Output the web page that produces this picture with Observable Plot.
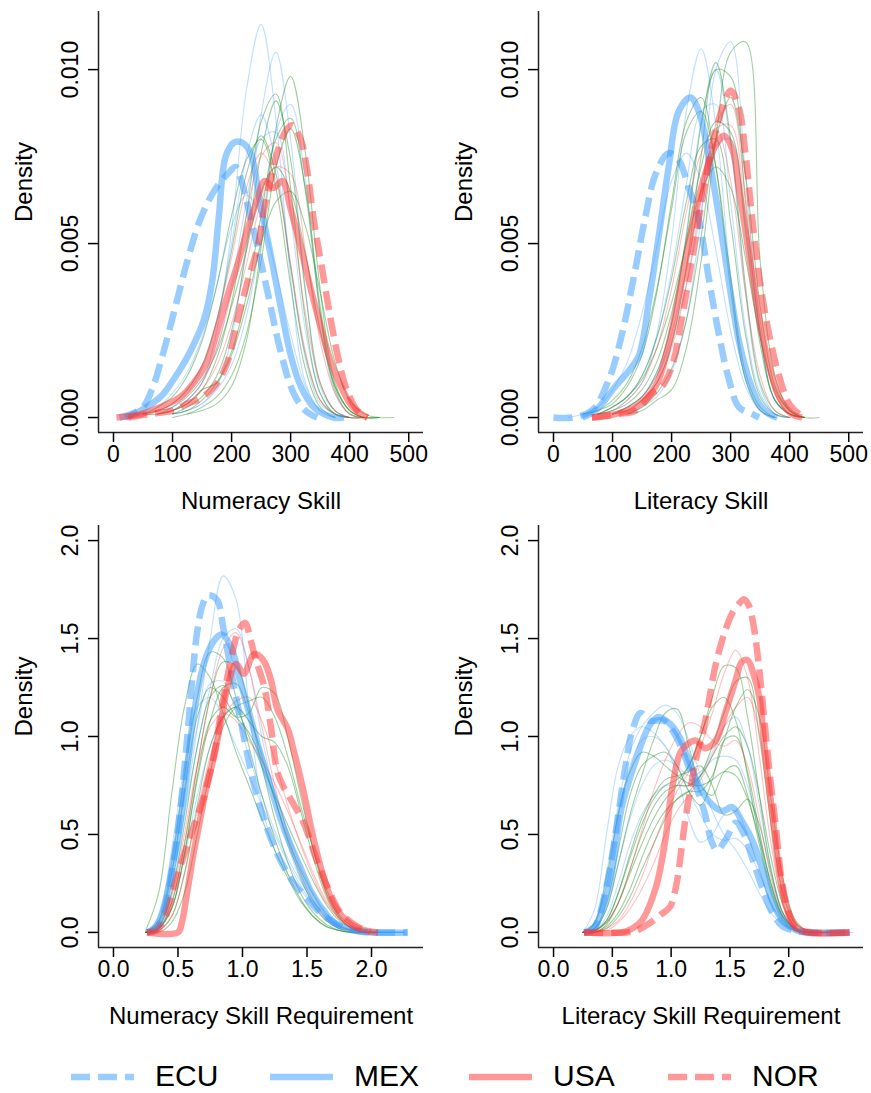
<!DOCTYPE html>
<html><head><meta charset="utf-8">
<script src="https://cdn.jsdelivr.net/npm/d3@7"></script>
<script src="https://cdn.jsdelivr.net/npm/@observablehq/plot@0.6"></script>
<style>
body{margin:0;background:#fff;font-family:"Liberation Sans",Arial,Helvetica,sans-serif;}
#grid{display:grid;grid-template-columns:435px 436px;width:871px}
#grid svg{display:block}
#legend{display:block}
</style></head><body>
<div id="grid"></div>
<svg id="legend" width="871" height="53"></svg>
<script>
// ---------- categories ----------
const countries = ["ECU", "MEX", "USA", "NOR"];
const panelTitles = ["Numeracy Skill", "Literacy Skill", "Numeracy Skill Requirement", "Literacy Skill Requirement"];

// ---------- tick labels ----------
const skillTicks = [0, 100, 200, 300, 400, 500];
const skillDensityTicks = [0, 0.005, 0.010];
const reqTicks = [0, 0.5, 1.0, 1.5, 2.0];
const reqDensityTicks = [0, 0.5, 1.0, 1.5, 2.0];

// ---------- x grids for the thin background densities ----------
const skillGrid = [0,25,50,75,100,125,150,175,200,225,250,275,300,325,350,375,400,425,450,475];
const reqNumGrid = [0.25,0.35,0.45,0.55,0.65,0.75,0.85,0.95,1.05,1.15,1.25,1.35,1.45,1.55,1.65,1.75,1.85,1.95,2.05,2.15,2.25];
const reqLitGrid = [0.25,0.35,0.45,0.55,0.65,0.75,0.85,0.95,1.05,1.15,1.25,1.35,1.45,1.55,1.65,1.75,1.85,1.95,2.05,2.15,2.25,2.35,2.45,2.55];

// ---------- background country densities: [group, first x, values on grid] ----------
const numSkillBg = [
 ["b",75,[.0001,.0002,.0005,.0010,.0025,.0054,.0094,.0113,.0086,.0040,.0010,.0002,0]],
 ["b",100,[.0001,.0002,.0004,.0009,.0023,.0050,.0087,.0105,.0080,.0037,.0009,.0002,0]],
 ["b",100,[.0001,.0002,.0004,.0008,.0015,.0029,.0052,.0082,.0090,.0068,.0030,.0007,.0001,0]],
 ["b",25,[0,.0001,.0003,.0007,.0013,.0023,.0038,.0055,.0064,.0058,.0042,.0024,.0009,.0002,0]],
 ["b",50,[.0001,.0002,.0003,.0007,.0014,.0028,.0050,.0075,.0087,.0073,.0044,.0017,.0004,.0001,0]],
 ["b",75,[.0001,.0002,.0005,.0010,.0020,.0038,.0062,.0080,.0082,.0058,.0025,.0007,.0001,0]],
 ["g",100,[0,.0001,.0002,.0004,.0009,.0022,.0049,.0083,.0098,.0076,.0037,.0010,.0002,0,0]],
 ["g",75,[.0001,.0002,.0004,.0008,.0017,.0033,.0058,.0085,.0093,.0066,.0028,.0007,.0001,0,0]],
 ["g",100,[.0001,.0003,.0006,.0012,.0025,.0048,.0076,.0091,.0074,.0036,.0010,.0002,0,0,0]],
 ["g",100,[.0001,.0002,.0005,.0010,.0019,.0035,.0058,.0080,.0086,.0065,.0030,.0008,.0001,0]],
 ["g",50,[.0001,.0002,.0004,.0008,.0015,.0028,.0048,.0070,.0081,.0070,.0043,.0018,.0005,.0001,0]],
 ["g",50,[.0001,.0003,.0006,.0012,.0022,.0038,.0058,.0074,.0080,.0066,.0038,.0014,.0003,0]],
 ["g",125,[.0001,.0003,.0006,.0012,.0024,.0045,.0072,.0083,.0066,.0032,.0009,.0002,0,0]],
 ["g",50,[.0001,.0001,.0003,.0006,.0011,.0019,.0032,.0048,.0065,.0072,.0065,.0047,.0025,.0009,.0002,0]],
 ["g",100,[.0002,.0004,.0008,.0010,.0018,.0032,.0050,.0062,.0065,.0055,.0036,.0016,.0005,.0001,0,0]],
 ["r",75,[.0001,.0002,.0005,.0010,.0020,.0036,.0058,.0075,.0079,.0060,.0030,.0010,.0002,0,0]],
 ["r",75,[.0001,.0002,.0004,.0008,.0015,.0027,.0044,.0062,.0072,.0070,.0048,.0022,.0007,.0001,0]],
 ["r",50,[.0001,.0002,.0004,.0008,.0015,.0028,.0046,.0066,.0076,.0068,.0044,.0019,.0005,.0001,0]]
];
const litSkillBg = [
 ["b",75,[.0001,.0002,.0005,.0010,.0024,.0051,.0088,.0106,.0084,.0040,.0011,.0002,0]],
 ["b",125,[.0001,.0003,.0006,.0013,.0028,.0058,.0100,.0108,.0070,.0025,.0005,.0001,0]],
 ["b",100,[.0001,.0003,.0006,.0013,.0027,.0053,.0085,.0100,.0078,.0036,.0009,.0001,0]],
 ["b",25,[0,.0001,.0003,.0008,.0016,.0030,.0049,.0068,.0076,.0068,.0048,.0025,.0009,.0002,0]],
 ["b",75,[.0001,.0003,.0006,.0012,.0023,.0042,.0067,.0088,.0090,.0062,.0026,.0007,.0001,0]],
 ["b",100,[.0001,.0003,.0006,.0012,.0022,.0038,.0059,.0078,.0080,.0056,.0023,.0005,.0001,0]],
 ["g",125,[.0001,.0002,.0005,.0008,.0020,.0045,.0080,.0105,.0108,.0045,.0012,.0002,0,0]],
 ["g",100,[.0001,.0002,.0005,.0010,.0021,.0043,.0075,.0100,.0098,.0062,.0024,.0005,.0001,0]],
 ["g",100,[.0001,.0003,.0006,.0013,.0027,.0052,.0084,.0102,.0080,.0038,.0010,.0002,0]],
 ["g",50,[.0001,.0002,.0004,.0009,.0018,.0036,.0062,.0085,.0092,.0072,.0037,.0011,.0002,0]],
 ["g",75,[.0001,.0003,.0006,.0012,.0023,.0040,.0062,.0078,.0080,.0056,.0024,.0006,.0001,0]],
 ["g",125,[.0001,.0003,.0007,.0014,.0028,.0052,.0080,.0092,.0070,.0032,.0009,.0002,0]],
 ["g",75,[.0001,.0003,.0006,.0011,.0020,.0033,.0050,.0065,.0072,.0066,.0046,.0023,.0008,.0002,0]],
 ["g",75,[.0001,.0002,.0004,.0008,.0016,.0030,.0051,.0072,.0085,.0082,.0054,.0021,.0005,.0001,0]],
 ["g",50,[.0001,.0002,.0005,.0010,.0020,.0037,.0060,.0082,.0088,.0072,.0040,.0013,.0003,0]],
 ["r",100,[.0001,.0002,.0005,.0010,.0020,.0038,.0062,.0084,.0090,.0064,.0028,.0007,.0001,0]],
 ["r",100,[.0001,.0003,.0006,.0012,.0024,.0043,.0066,.0083,.0084,.0058,.0025,.0007,.0001,0]],
 ["r",75,[.0001,.0002,.0005,.0010,.0020,.0037,.0059,.0076,.0083,.0068,.0036,.0012,.0002,0]]
];
const numReqBg = [
 ["b",0.25,[0,.03,.2,.6,1.05,1.5,1.82,1.7,1.15,.65,.42,.3,.22,.13,.06,.02,.005,0,0,0,0]],
 ["b",0.25,[0,.04,.25,.6,.95,1.25,1.5,1.55,1.35,1.0,.7,.45,.27,.15,.07,.03,.01,0,0,0,0]],
 ["b",0.25,[0,.06,.3,.7,1.05,1.27,1.28,1.12,.9,.7,.52,.38,.26,.16,.08,.03,.01,0,0,0,0]],
 ["b",0.25,[0,.02,.12,.38,.7,.95,1.1,1.15,1.08,.92,.72,.52,.34,.2,.1,.04,.015,.005,0,0,0]],
 ["b",0.25,[0,.08,.42,.85,1.15,1.2,1.1,.95,.8,.65,.5,.36,.24,.14,.07,.03,.01,0,0,0]],
 ["g",0.25,[0,.06,.35,.8,1.2,1.43,1.4,1.2,.95,.7,.48,.3,.17,.08,.03,.01,0,0]],
 ["g",0.25,[.01,.2,.7,1.15,1.37,1.3,1.12,.92,.75,.58,.42,.28,.16,.08,.03,.01,0,0]],
 ["g",0.25,[0,.02,.15,.45,.85,1.2,1.38,1.36,1.15,.85,.58,.36,.2,.1,.04,.01,0,0]],
 ["g",0.25,[0,.02,.12,.4,.8,1.08,1.15,1.1,1.12,1.25,1.22,1.0,.7,.42,.2,.08,.02,0,0]],
 ["g",0.25,[0,.01,.08,.3,.65,.95,1.1,1.15,1.08,1.0,.97,.85,.62,.38,.18,.07,.02,0,0]],
 ["g",0.25,[0,.03,.2,.55,.95,1.2,1.26,1.15,1.0,.85,.7,.55,.4,.26,.14,.06,.02,.005,0]],
 ["g",0.25,[0,0,.05,.2,.5,.82,1.05,1.15,1.18,1.2,1.1,.9,.65,.42,.22,.09,.03,.01,0]],
 ["g",0.25,[0,.02,.12,.4,.78,1.08,1.25,1.27,1.12,.9,.68,.48,.32,.19,.09,.035,.01,0]],
 ["g",0.25,[0,.05,.3,.72,1.1,1.25,1.2,1.1,1.02,.88,.68,.47,.28,.14,.06,.02,0]],
 ["r",0.25,[0,.02,.15,.45,.85,1.2,1.45,1.53,1.35,1.05,.75,.5,.3,.16,.07,.025,.01,0]],
 ["r",0.25,[0,.01,.08,.3,.62,.9,1.1,1.18,1.2,1.08,.88,.65,.45,.28,.15,.07,.02,.005,0]],
 ["r",0.25,[0,.03,.18,.5,.85,1.05,1.12,1.08,.98,.88,.76,.62,.46,.3,.16,.07,.02,0]]
];
const litReqBg = [
 ["b",0.25,[0,.05,.3,.65,.92,1.05,1.12,1.16,1.12,.98,.8,.62,.5,.42,.32,.2,.1,.04,.01,0,0,0]],
 ["b",0.25,[0,.12,.5,.85,1.0,1.05,1.02,.95,.85,.72,.6,.5,.47,.48,.42,.3,.15,.06,.02,0,0]],
 ["b",0.25,[0,.02,.12,.35,.58,.75,.85,.88,.85,.8,.82,.92,1.05,1.1,.95,.65,.32,.1,.02,0,0,0]],
 ["b",0.25,[0,.04,.25,.6,.85,.98,1.0,.95,.8,.58,.46,.5,.6,.62,.5,.32,.15,.05,.01,0,0]],
 ["b",0.25,[0,.01,.08,.25,.45,.6,.7,.75,.75,.75,.8,.88,.9,.88,.75,.5,.25,.08,.02,0,0,0,0,0]],
 ["g",0.25,[0,.02,.12,.35,.6,.8,.98,1.12,1.14,.95,.75,.7,.82,.85,.7,.45,.2,.06,.01,0]],
 ["g",0.25,[0,.01,.05,.15,.3,.45,.58,.68,.75,.85,1.0,1.2,1.36,1.35,1.1,.7,.32,.1,.02,0,0]],
 ["g",0.25,[0,0,.03,.1,.22,.38,.52,.62,.68,.72,.8,.95,1.12,1.28,1.3,1.0,.55,.2,.05,.01,0,0,0]],
 ["g",0.25,[0,.05,.28,.6,.82,.92,.9,.85,.8,.76,.75,.78,.82,.8,.68,.48,.25,.08,.02,0,0]],
 ["g",0.25,[0,.01,.06,.2,.38,.55,.68,.75,.78,.85,1.0,1.15,1.2,1.08,.8,.48,.22,.07,.01,0]],
 ["g",0.25,[0,0,.02,.08,.18,.32,.45,.58,.68,.72,.72,.8,.98,1.15,1.24,1.1,.68,.28,.07,.01,0,0]],
 ["g",0.25,[0,.02,.15,.42,.7,.85,.9,.92,.85,.72,.65,.78,.98,1.0,.82,.52,.24,.08,.02,0]],
 ["g",0.25,[0,.01,.06,.2,.4,.58,.7,.78,.8,.82,.85,.75,.6,.62,.68,.55,.3,.1,.02,0]],
 ["g",0.25,[0,0,.04,.15,.32,.5,.64,.72,.75,.75,.8,.9,1.0,1.05,.95,.7,.38,.14,.03,0,0]],
 ["r",0.25,[0,0,.02,.06,.15,.28,.45,.6,.72,.82,.95,1.12,1.32,1.44,1.3,.9,.45,.15,.03,0,0]],
 ["r",0.25,[0,.01,.05,.15,.32,.52,.72,.88,1.0,1.07,1.05,.98,.95,.98,.85,.58,.28,.09,.02,0,0]],
 ["r",0.25,[0,0,.01,.05,.12,.22,.35,.5,.62,.7,.78,.9,1.05,1.15,1.2,1.02,.6,.25,.06,.01,0,0]]
];

// ---------- highlighted countries: [x, density] ----------
const numSkillECU = [[10,0],[30,.0001],[50,.0003],[65,.0008],[80,.0016],[102,.0030],[125,.0045],[147,.0057],[170,.0065],[193,.0070],[207,.0072],[215,.0069],[227,.0061],[244,.0049],[261,.0036],[283,.0019],[305,.0007],[325,.0002],[345,0]];
const numSkillMEX = [[20,0],[46,.0002],[80,.0006],[102,.0011],[130,.0019],[153,.0028],[167,.0039],[178,.0057],[190,.0075],[204,.0079],[218,.0079],[232,.0076],[249,.0061],[266,.0047],[283,.0032],[300,.0018],[317,.0009],[339,.0003],[373,0],[390,0]];
const numSkillUSA = [[5,0],[46,.0001],[80,.0003],[114,.0006],[136,.0010],[159,.0016],[176,.0025],[193,.0035],[210,.0044],[227,.0054],[244,.0063],[256,.0068],[271,.0066],[286,.0068],[300,.0060],[317,.0049],[334,.0037],[351,.0026],[368,.0016],[385,.0009],[405,.0003],[430,0]];
const numSkillNOR = [[25,0],[60,.0001],[100,.0002],[125,.0004],[142,.0005],[159,.0007],[176,.0010],[193,.0016],[210,.0028],[227,.0039],[244,.0049],[254,.0059],[266,.0068],[277,.0076],[294,.0083],[303,.0084],[317,.0080],[328,.0071],[339,.0057],[354,.0042],[368,.0028],[382,.0016],[395,.0008],[413,.0002],[430,0]];

const litSkillECU = [[0,0],[32,0],[65,.0002],[94,.0011],[116,.0024],[139,.0043],[156,.0058],[173,.0070],[195,.0076],[212,.0074],[229,.0066],[246,.0057],[263,.0040],[280,.0024],[297,.0011],[314,.0003],[337,.0001],[348,0]];
const litSkillMEX = [[49,0],[71,.0002],[105,.0009],[128,.00135],[145,.0018],[162,.0034],[179,.0053],[195,.0072],[212,.0088],[232,.0092],[246,.0088],[263,.0075],[280,.0058],[297,.0039],[314,.0022],[331,.0011],[348,.0004],[365,.0001],[379,0]];
const litSkillUSA = [[65,0],[105,.0001],[139,.0003],[173,.0009],[195,.0021],[218,.0040],[240,.0059],[257,.0070],[274,.0078],[289,.0081],[303,.0077],[314,.0066],[331,.0047],[348,.0029],[365,.0015],[382,.0006],[404,.0001],[421,0]];
const litSkillNOR = [[65,0],[110,.0001],[139,.0002],[167,.0007],[184,.0009],[201,.0015],[218,.0029],[235,.0046],[252,.0063],[269,.0078],[286,.0089],[300,.0094],[314,.0089],[325,.0076],[336,.0058],[348,.0041],[365,.0024],[382,.0012],[399,.0004],[416,.0001],[425,0]];

const numReqECU = [[0.26,0],[0.33,.02],[0.39,.10],[0.47,.38],[0.52,.64],[0.57,.98],[0.61,1.29],[0.65,1.54],[0.69,1.67],[0.73,1.72],[0.80,1.70],[0.85,1.56],[0.91,1.34],[0.96,1.17],[1.04,.90],[1.11,.70],[1.17,.57],[1.27,.40],[1.40,.25],[1.53,.15],[1.62,.09],[1.71,.05],[1.80,.02],[1.90,.005],[2.0,0],[2.28,0]];
const numReqMEX = [[0.26,0],[0.33,.03],[0.39,.13],[0.47,.38],[0.55,.72],[0.62,1.10],[0.70,1.37],[0.78,1.49],[0.84,1.52],[0.91,1.46],[0.98,1.29],[1.06,1.10],[1.14,.91],[1.22,.74],[1.29,.59],[1.37,.45],[1.45,.33],[1.53,.21],[1.63,.11],[1.73,.04],[1.89,.01],[2.0,0],[2.28,0]];
const numReqUSA = [[0.26,0],[0.50,0],[0.53,.05],[0.57,.20],[0.62,.40],[0.67,.57],[0.72,.74],[0.78,.90],[0.84,1.10],[0.88,1.24],[0.95,1.37],[1.01,1.32],[1.09,1.42],[1.16,1.39],[1.22,1.29],[1.27,1.14],[1.35,1.04],[1.40,.92],[1.47,.73],[1.55,.48],[1.63,.28],[1.71,.14],[1.84,.04],[1.95,.01],[2.05,0]];
const numReqNOR = [[0.26,0],[0.33,.01],[0.39,.06],[0.49,.28],[0.60,.50],[0.70,.69],[0.78,.91],[0.84,1.15],[0.91,1.39],[0.97,1.54],[1.02,1.58],[1.06,1.50],[1.10,1.40],[1.17,1.25],[1.22,1.05],[1.27,.82],[1.32,.74],[1.40,.65],[1.48,.55],[1.58,.36],[1.68,.20],[1.76,.10],[1.89,.03],[1.99,0]];

const litReqECU = [[0.26,0],[0.35,.03],[0.43,.18],[0.50,.40],[0.55,.60],[0.61,.84],[0.67,1.03],[0.74,1.12],[0.82,1.08],[0.94,1.08],[1.05,.99],[1.14,.86],[1.21,.75],[1.29,.60],[1.34,.47],[1.39,.42],[1.46,.47],[1.55,.56],[1.62,.50],[1.70,.36],[1.78,.22],[1.86,.10],[1.95,.03],[2.05,.01],[2.15,0],[2.52,0]];
const litReqMEX = [[0.26,0],[0.33,.01],[0.47,.23],[0.58,.64],[0.70,.88],[0.81,1.05],[0.89,1.10],[0.98,1.07],[1.06,1.01],[1.15,.88],[1.23,.76],[1.32,.67],[1.43,.62],[1.52,.64],[1.60,.57],[1.69,.47],[1.78,.32],[1.86,.16],[1.95,.06],[2.07,.01],[2.2,0],[2.52,0]];
const litReqUSA = [[0.26,0],[0.58,0],[0.67,.02],[0.75,.06],[0.87,.23],[0.95,.47],[1.01,.74],[1.09,.93],[1.21,.98],[1.29,.94],[1.38,.98],[1.46,1.12],[1.55,1.29],[1.60,1.38],[1.65,1.39],[1.70,1.32],[1.75,1.20],[1.80,.91],[1.86,.61],[1.91,.35],[1.97,.15],[2.05,.03],[2.15,0],[2.52,0]];
const litReqNOR = [[0.26,0],[0.62,0],[0.71,.01],[0.80,.04],[0.91,.09],[0.99,.13],[1.04,.23],[1.12,.57],[1.21,.88],[1.29,1.08],[1.38,1.37],[1.46,1.54],[1.52,1.63],[1.58,1.68],[1.62,1.70],[1.66,1.67],[1.70,1.57],[1.75,1.34],[1.79,1.10],[1.84,.80],[1.89,.54],[1.94,.27],[2.0,.10],[2.07,.02],[2.2,0],[2.52,0]];

// ---------- styles ----------
const hiStyle = {
  ECU: {stroke: "#3399FF", dash: true},
  MEX: {stroke: "#3399FF", dash: false},
  USA: {stroke: "#FF3333", dash: false},
  NOR: {stroke: "#FF3333", dash: true}
};
const bgStyle = {
  b: {stroke: "#3399FF", opacity: 0.3},
  g: {stroke: "#228B22", opacity: 0.42},
  r: {stroke: "#FF3333", opacity: 0.3}
};
const FONT = '"Liberation Sans", Arial, Helvetica, sans-serif';

function bgRows(grid, bg) {
  const rows = [];
  bg.forEach(([group, start, vals], k) => {
    const i0 = grid.indexOf(start);
    vals.forEach((v, j) => {
      if (i0 + j < grid.length && v != null) rows.push({id: k, group, x: grid[i0 + j], y: v});
    });
  });
  return rows;
}

function panel(o) {
  const rows = bgRows(o.grid, o.bg);
  const marks = [];
  for (const g of ["b", "g", "r"]) {
    marks.push(Plot.line(rows.filter(d => d.group === g), {
      x: "x", y: "y", z: "id", stroke: bgStyle[g].stroke, strokeOpacity: bgStyle[g].opacity,
      strokeWidth: 1.1, curve: "catmull-rom"
    }));
  }
  countries.forEach((c, i) => {
    const s = hiStyle[c];
    marks.push(Plot.line(o.hi[i], {
      x: d => d[0], y: d => d[1], stroke: s.stroke, strokeOpacity: 0.5, strokeWidth: 6.5,
      strokeDasharray: s.dash ? "19,8" : null, strokeLinecap: "butt", strokeLinejoin: "round",
      curve: "catmull-rom"
    }));
  });
  marks.push(
    Plot.ruleX([o.xDomain[0]], {stroke: "#222", strokeWidth: 1.5}),
    Plot.ruleY([o.yDomain[0]], {stroke: "#222", strokeWidth: 1.5}),
    Plot.axisX({ticks: o.xTicks, tickSize: 10, tickFormat: o.xFmt, fontSize: 23, label: null, strokeWidth: 1.5}),
    Plot.axisY({ticks: o.yTicks, tickSize: 10, tickRotate: -90, tickPadding: 11, tickFormat: o.yFmt, fontSize: 23, label: null, strokeWidth: 1.5}),
    Plot.text([o.title], {text: d => d, frameAnchor: "bottom", dy: 76, lineAnchor: "bottom", fontSize: 24}),
    Plot.text(["Density"], {text: d => d, frameAnchor: "left", dx: -74, rotate: -90, lineAnchor: "middle", fontSize: 24})
  );
  return Plot.plot({
    width: o.width, height: 520,
    marginLeft: o.ml, marginRight: o.mr, marginTop: o.mt, marginBottom: o.mb,
    x: {domain: o.xDomain}, y: {domain: o.yDomain},
    style: {fontFamily: FONT, color: "#000", background: "transparent", overflow: "visible"},
    marks
  });
}

const fmtInt = d3.format("d"), fmt3 = d3.format(".3f"), fmt1 = d3.format(".1f");
const grid = document.getElementById("grid");
grid.append(
  panel({width: 435, ml: 98, mr: 12, mt: 11, mb: 88, xDomain: [-25.4, 525], yDomain: [-0.00043, 0.01167],
    xTicks: skillTicks, yTicks: skillDensityTicks, xFmt: fmtInt, yFmt: fmt3, title: panelTitles[0],
    grid: skillGrid, bg: numSkillBg, hi: [numSkillECU, numSkillMEX, numSkillUSA, numSkillNOR]}),
  panel({width: 436, ml: 103, mr: 8, mt: 11, mb: 88, xDomain: [-25.4, 525], yDomain: [-0.00043, 0.01167],
    xTicks: skillTicks, yTicks: skillDensityTicks, xFmt: fmtInt, yFmt: fmt3, title: panelTitles[1],
    grid: skillGrid, bg: litSkillBg, hi: [litSkillECU, litSkillMEX, litSkillUSA, litSkillNOR]}),
  panel({width: 435, ml: 98, mr: 12, mt: 5, mb: 93, xDomain: [-0.116, 2.403], yDomain: [-0.077, 2.077],
    xTicks: reqTicks, yTicks: reqDensityTicks, xFmt: fmt1, yFmt: fmt1, title: panelTitles[2],
    grid: reqNumGrid, bg: numReqBg, hi: [numReqECU, numReqMEX, numReqUSA, numReqNOR]}),
  panel({width: 436, ml: 103, mr: 8, mt: 5, mb: 93, xDomain: [-0.128, 2.636], yDomain: [-0.077, 2.077],
    xTicks: reqTicks, yTicks: reqDensityTicks, xFmt: fmt1, yFmt: fmt1, title: panelTitles[3],
    grid: reqLitGrid, bg: litReqBg, hi: [litReqECU, litReqMEX, litReqUSA, litReqNOR]})
);

// ---------- legend ----------
const lg = d3.select("#legend");
countries.forEach((c, i) => {
  const s = hiStyle[c];
  const x0 = 71 + 199 * i;
  lg.append("line").attr("x1", x0).attr("x2", x0 + 63).attr("y1", 37).attr("y2", 37)
    .attr("stroke", s.stroke).attr("stroke-opacity", 0.5).attr("stroke-width", 6.5)
    .attr("stroke-dasharray", s.dash ? "19,8" : null);
  lg.append("text").attr("x", x0 + 84).attr("y", 46).attr("font-size", 30)
    .attr("font-family", FONT).attr("fill", "#000").text(c);
});
</script>
</body></html>
